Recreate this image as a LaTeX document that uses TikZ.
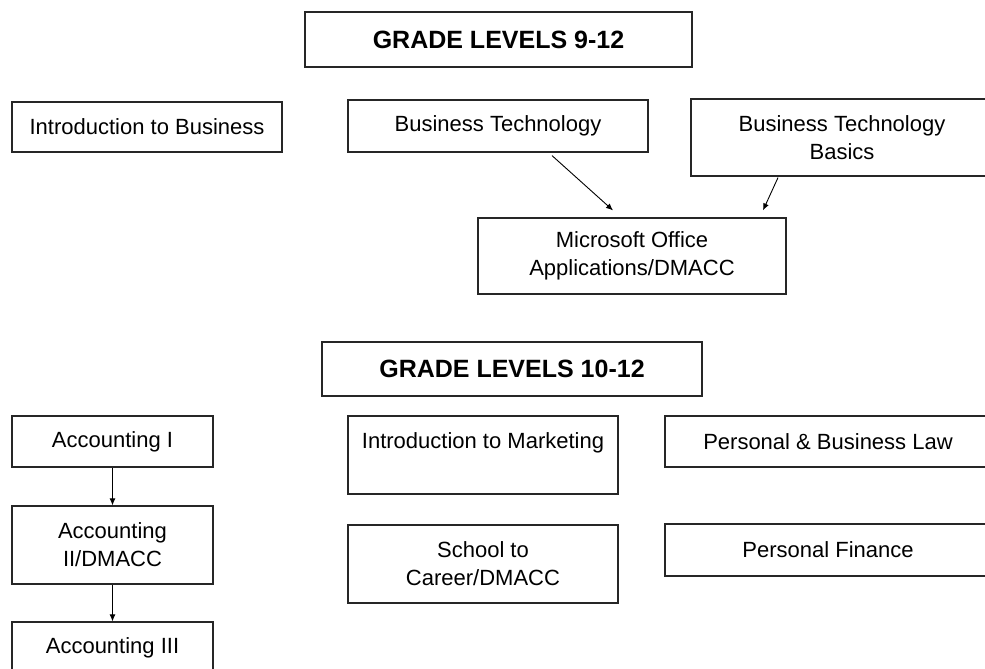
\documentclass[tikz,border=0pt]{standalone}
\usepackage{fontspec}
\setmainfont{Liberation Sans}
\usetikzlibrary{arrows.meta}
\begin{document}
\begin{tikzpicture}[x=1pt,y=-1pt,
  box/.style={draw=black!85,line width=1.2pt,rectangle,inner sep=0pt,align=center,
    font=\fontsize{22}{28}\selectfont},
  titlebox/.style={box,font=\fontsize{25}{30}\selectfont\bfseries},
  arr/.style={-{Latex[length=7pt,width=6pt]},line width=0.9pt,black}]
\clip (0,0) rectangle (985,669);
\fill[white] (0,0) rectangle (985,669);
\node[titlebox,minimum width=387pt,minimum height=55pt] (g1) at (498.5,39.5) {GRADE LEVELS 9-12};
\node[box,minimum width=270pt,minimum height=50pt] (intro) at (147,127) {Introduction to Business};
\node[box,minimum width=300pt,minimum height=52pt] (bt) at (498,126) {Business Technology};
\node[box,minimum width=302pt,minimum height=77pt] (btb) at (842,137.5) {Business Technology\\Basics};
\node[box,minimum width=308pt,minimum height=76pt] (mso) at (632,256) {Microsoft Office\\Applications/DMACC};
\node[titlebox,minimum width=380pt,minimum height=54pt] (g2) at (512,369) {GRADE LEVELS 10-12};
\node[box,minimum width=201pt,minimum height=51pt] (acc1) at (112.5,441.5) {Accounting I};
\node[box,minimum width=201pt,minimum height=78pt] (acc2) at (112.5,545) {Accounting\\II/DMACC};
\node[box,minimum width=201pt,minimum height=51pt] (acc3) at (112.5,647.5) {Accounting III};
\node[box,minimum width=270pt,minimum height=78pt] (mkt) at (483,455) {Introduction to Marketing\\\mbox{}};
\node[box,minimum width=270pt,minimum height=78pt] (stc) at (483,564) {School to\\Career/DMACC};
\node[box,minimum width=326pt,minimum height=51pt] (pbl) at (828,441.5) {Personal \& Business Law};
\node[box,minimum width=326pt,minimum height=52pt] (pf) at (828,550) {Personal Finance};
\draw[arr] ([xshift=54pt,yshift=-3pt]bt.south) -- ([xshift=-19pt,yshift=7pt]mso.north);
\draw[arr] ([xshift=-64pt,yshift=-1pt]btb.south) -- ([xshift=131pt,yshift=7pt]mso.north);
\draw[arr] (acc1.south) -- (acc2.north);
\draw[arr] (acc2.south) -- (acc3.north);
\end{tikzpicture}
\end{document}
